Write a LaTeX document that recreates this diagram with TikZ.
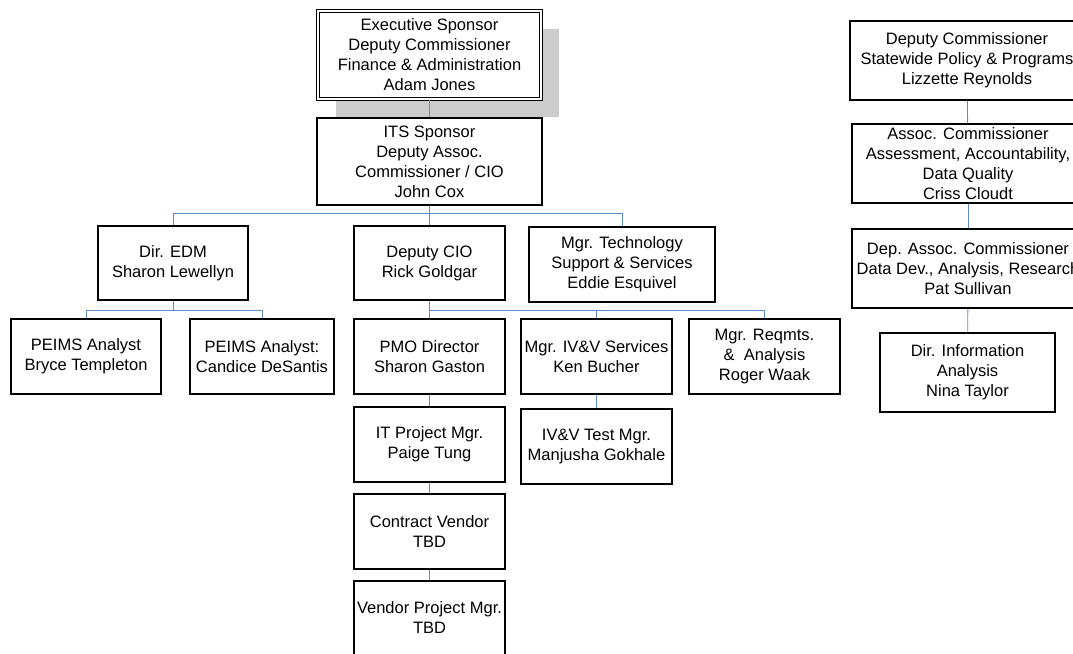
\documentclass[tikz,border=0pt]{standalone}
\usepackage{fontspec}
\setmainfont{Liberation Sans}
\usetikzlibrary{shadows}
\definecolor{linkblue}{RGB}{92,138,206}

\begin{document}
\begin{tikzpicture}[x=1pt,y=-1pt,
  box/.style={draw,line width=1.1pt,fill=white,inner sep=0pt,align=center,
    font=\fontsize{16.5}{20}\selectfont},
  link/.style={linkblue,line width=0.9pt}]
\clip (0,0) rectangle (1073,653);
\node[box,double,line width=1pt,double distance=1.6pt,minimum width=223,minimum height=88,
  drop shadow={shadow xshift=18pt,shadow yshift=-18pt,fill=gray!40,opacity=1}]
  (exec) at (429.5,55) {Executive Sponsor\\Deputy Commissioner\\Finance \& Administration\\Adam Jones};
\node[box,minimum width=225,minimum height=87] (its) at (429.5,161.5) {ITS Sponsor\\Deputy Assoc.\\Commissioner / CIO\\John Cox};
\node[box,minimum width=150,minimum height=74] (edm) at (173,263) {Dir. EDM\\Sharon Lewellyn};
\node[box,minimum width=151,minimum height=74] (dcio) at (429.5,263) {Deputy CIO\\Rick Goldgar};
\node[box,minimum width=186,minimum height=75] (mts) at (622,264.5) {Mgr. Technology\\Support \& Services\\Eddie Esquivel};
\node[box,minimum width=150,minimum height=75] (pa1) at (86,356.5) {PEIMS Analyst\\Bryce Templeton};
\node[box,minimum width=144,minimum height=75] (pa2) at (262,356.5) {PEIMS Analyst:\\Candice DeSantis};
\node[box,minimum width=151,minimum height=75] (pmo) at (429.5,356.5) {PMO Director\\Sharon Gaston};
\node[box,minimum width=151,minimum height=75] (ivv) at (596.5,356.5) {Mgr. IV\&V Services\\Ken Bucher};
\node[box,minimum width=151,minimum height=75] (req) at (764.5,356.5) {Mgr. Reqmts.\\\&\ \ Analysis\\Roger Waak};
\node[box,minimum width=151,minimum height=75] (itpm) at (429.5,444.5) {IT Project Mgr.\\Paige Tung};
\node[box,minimum width=151,minimum height=75] (ivt) at (596.5,446.5) {IV\&V Test Mgr.\\Manjusha Gokhale};
\node[box,minimum width=151,minimum height=75] (cv) at (429.5,531.5) {Contract Vendor\\TBD};
\node[box,minimum width=151,minimum height=74] (vpm) at (429.5,618) {Vendor Project Mgr.\\TBD};
\node[box,minimum width=234,minimum height=79] (dcsp) at (967,60.5) {Deputy Commissioner\\Statewide Policy \& Programs\\Lizzette Reynolds};
\node[box,minimum width=232,minimum height=79] (acom) at (968,163.5) {Assoc. Commissioner\\Assessment, Accountability,\\Data Quality\\Criss Cloudt};
\node[box,minimum width=232,minimum height=79] (dac) at (968,268.5) {Dep. Assoc. Commissioner\\Data Dev., Analysis, Research\\Pat Sullivan};
\node[box,minimum width=175,minimum height=79] (dia) at (967.5,372.5) {Dir. Information\\Analysis\\Nina Taylor};
\coordinate (busa) at (429.5,213);
\coordinate (busb) at (173,310);
\coordinate (busc) at (429.5,310);
\draw[link] (exec) -- (its);
\draw[link] (its) -- (busa) -- (dcio);
\draw[link] (busa) -| (edm);
\draw[link] (busa) -| (mts);
\draw[link] (edm) -- (busb);
\draw[link] (busb) -| (pa1);
\draw[link] (busb) -| (pa2);
\draw[link] (dcio) -- (busc) -- (pmo);
\draw[link] (busc) -| (ivv);
\draw[link] (busc) -| (req);
\draw[link] (pmo) -- (itpm);
\draw[link] (itpm) -- (cv);
\draw[link] (cv) -- (vpm);
\draw[link] (ivv) -- (ivt);
\draw[link] (dcsp) -- (acom);
\draw[link] (acom) -- (dac);
\draw[link] (dac) -- (dia);
\end{tikzpicture}
\end{document}
